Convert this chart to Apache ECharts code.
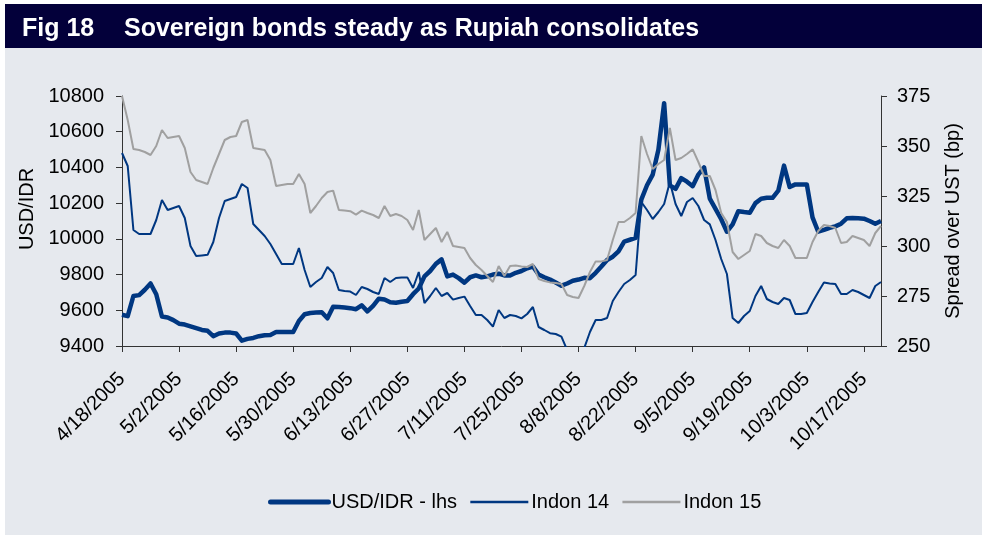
<!DOCTYPE html>
<html>
<head>
<meta charset="utf-8">
<script src="https://cdn.jsdelivr.net/npm/echarts@6/dist/echarts.min.js"></script>
<style>
html,body{margin:0;padding:0;background:#ffffff;}
#chart{width:987px;height:540px;}
</style>
</head>
<body>
<div id="chart"></div>
<script>
// Business days from 4/18/2005 to 10/20/2005
var startDate = '2005-04-18';
var dayCount = 134;
var tickLabelsEvery = 10;

var usdIdr = [
9575,9567,9680,9685,9715,9750,9690,9565,9560,9545,
9525,9520,9510,9500,9490,9485,9455,9470,9475,9475,
9470,9430,9440,9445,9455,9460,9462,9478,9478,9478,
9478,9540,9578,9585,9587,9589,9555,9620,9618,9615,
9612,9606,9628,9594,9625,9665,9660,9645,9642,9648,
9652,9690,9722,9790,9820,9860,9885,9790,9800,9780,
9755,9785,9795,9785,9790,9800,9805,9795,9795,9810,
9820,9835,9845,9800,9785,9772,9755,9738,9750,9765,
9772,9782,9780,9810,9845,9882,9900,9930,9985,9995,
10005,10220,10300,10360,10500,10760,10300,10280,10340,10320,
10295,10360,10400,10225,10168,10110,10040,10081,10155,10150,
10146,10200,10225,10230,10230,10270,10410,10290,10305,10305,
10305,10120,10040,10050,10062,10070,10085,10115,10117,10115,
10113,10100,10085,10100
];

var indon14 = [
346.5,340,308,306,306,306,313,323,318,319,
320,314,300,295,295.3,295.6,302,314,322.5,323.5,
324.5,331,329,311,308,305,301,296,291,291,
291,299,288,279.5,282,284,289.5,286.5,278,277.5,
277.2,275.5,279.5,278.5,277,276,284,282,284,284.3,
284.3,279,287,271.5,275,279,275,276.5,273.2,274,
274.7,270,265.5,265.5,263,259.7,268,264,265.5,265,
263.8,266,269.5,259.5,258,256.4,256,254.7,248,244,
244,249,257,263,263,264,272.5,277,281,283,
285.5,322,318,313.5,317,321,332,321,315,322,
324,320,313,310.8,303,293.5,286,264,261.5,265,
267.5,275,280,273.5,272,271,274,273,266,266,
266.5,272,277,281.8,281.3,281,276,276,278,277,
275.5,274,280,282
];

var indon15 = [
375,363,348.5,348,347,345.5,350,358,354,354.5,
355,349,337,333,332,331,339,346,353,354.5,
355,362,363,349,348.5,348,343,330,330.5,331,
331,336,331,316.5,320,324,327,327.7,318,317.7,
317.4,315.7,317.7,316.5,315.5,314,320,315,316,315,
313,308,318,303,306,309,302,307,300,299.5,
299,294,290.5,288,285,282,290,285,290,290.2,
289.8,289.5,291,283.5,282.5,281.8,281.5,281,275.5,274.5,
274,280,287,292.3,292.3,293,303,312,312,314,
316.5,355,346,338.5,341,343,359,343,344,346,
348.3,342,335,335,328,316.5,312,297,293.5,295.5,
297.5,306,305,301.5,300,299,303,300,294,294,
294,302,307.5,310.5,310,309,301.5,302,305,304,
303,300,306.5,310
];

var leftTicks = {min: 9400, max: 10800, interval: 200};
var rightTicks = {min: 250, max: 375, interval: 25};

var categories = [];
(function(){
  var d = new Date(startDate + 'T12:00:00Z');
  while (categories.length < dayCount) {
    var wd = d.getUTCDay();
    if (wd !== 0 && wd !== 6) {
      categories.push((d.getUTCMonth()+1) + '/' + d.getUTCDate() + '/' + d.getUTCFullYear());
    }
    d.setUTCDate(d.getUTCDate() + 1);
  }
})();

var FONT = '"Liberation Sans", Arial, sans-serif';
var chart = echarts.init(document.getElementById('chart'), null, {renderer: 'canvas'});
var showEvery = function(i){ return i % tickLabelsEvery === 0; };

chart.setOption({
  animation: false,
  backgroundColor: '#ffffff',
  textStyle: {fontFamily: FONT},
  graphic: [
    {type: 'rect', silent: true, z: -10, shape: {x: 5, y: 48, width: 977, height: 487}, style: {fill: '#E6E9EE'}},
    {type: 'rect', silent: true, z: -10, shape: {x: 5, y: 4, width: 977, height: 44}, style: {fill: '#03003A'}}
  ],
  title: [
    {text: 'Fig 18', left: 17, top: 12, textStyle: {color: '#ffffff', fontSize: 25, fontWeight: 'bold', fontFamily: FONT}},
    {text: 'Sovereign bonds steady as Rupiah consolidates', left: 119, top: 12, textStyle: {color: '#ffffff', fontSize: 25, fontWeight: 'bold', fontFamily: FONT}}
  ],
  legend: {
    left: 268, top: 492, padding: 0,
    itemWidth: 58, itemHeight: 14, itemGap: 12,
    itemStyle: {opacity: 0},
    textStyle: {fontSize: 20, color: '#000000', fontFamily: FONT, padding: [0,0,0,-2]},
    data: [
      {name: 'USD/IDR - lhs', lineStyle: {width: 5, cap: 'round'}},
      {name: 'Indon 14', lineStyle: {width: 2.5}},
      {name: 'Indon 15', lineStyle: {width: 2.5}}
    ]
  },
  grid: {left: 122, right: 106, top: 96, bottom: 194, containLabel: false},
  xAxis: {
    type: 'category', boundaryGap: false, data: categories,
    axisLine: {lineStyle: {color: '#333333', width: 1}},
    axisTick: {show: true, interval: showEvery, length: 6, lineStyle: {color: '#333333'}},
    axisLabel: {interval: showEvery, rotate: 45, fontSize: 20, color: '#000000', margin: 30, fontFamily: FONT},
    splitLine: {show: false}
  },
  yAxis: [
    {
      type: 'value', position: 'left', min: leftTicks.min, max: leftTicks.max, interval: leftTicks.interval,
      name: 'USD/IDR', nameLocation: 'middle', nameGap: 64, nameRotate: 90,
      nameTextStyle: {fontSize: 20, color: '#000000', fontFamily: FONT, padding: [0, 0, 0, 24]},
      axisLine: {show: true, lineStyle: {color: '#333333'}},
      axisTick: {show: true, length: 6, lineStyle: {color: '#333333'}},
      axisLabel: {fontSize: 20, color: '#000000', margin: 18, fontFamily: FONT, formatter: function(v){ return String(v); }},
      splitLine: {show: false}
    },
    {
      type: 'value', position: 'right', min: rightTicks.min, max: rightTicks.max, interval: rightTicks.interval,
      name: 'Spread over UST (bp)', nameLocation: 'middle', nameGap: 62, nameRotate: 90,
      nameTextStyle: {fontSize: 20, color: '#000000', fontFamily: FONT},
      axisLine: {show: true, lineStyle: {color: '#333333'}},
      axisTick: {show: true, length: 6, lineStyle: {color: '#333333'}},
      axisLabel: {fontSize: 20, color: '#000000', margin: 16, fontFamily: FONT},
      splitLine: {show: false}
    }
  ],
  series: [
    {name: 'USD/IDR - lhs', type: 'line', yAxisIndex: 0, data: usdIdr, symbol: 'none',
     lineStyle: {color: '#003781', width: 4.5, join: 'round'}, itemStyle: {color: '#003781'}, z: 3},
    {name: 'Indon 14', type: 'line', yAxisIndex: 1, data: indon14, symbol: 'none',
     lineStyle: {color: '#003781', width: 2}, itemStyle: {color: '#003781'}, z: 4},
    {name: 'Indon 15', type: 'line', yAxisIndex: 1, data: indon15, symbol: 'none',
     lineStyle: {color: '#A0A0A0', width: 2}, itemStyle: {color: '#A0A0A0'}, z: 5}
  ]
});
</script>
</body>
</html>
